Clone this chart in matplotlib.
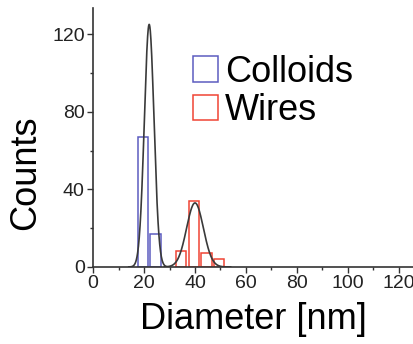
import numpy as np
import matplotlib
matplotlib.use('Agg')
import matplotlib.pyplot as plt
from matplotlib.patches import Rectangle

plt.rcParams['font.family'] = ['Liberation Sans', 'DejaVu Sans']

# histogram bins (centres in nm) and counts
colloid_centers = [19.5, 24.5]
colloid_counts = [67, 17]
wire_centers = [34.5, 39.5, 44.5, 49.5]
wire_counts = [8, 34, 7, 4]

# gaussian fit parameters: centre, amplitude, sigma
colloid_fit = (22.0, 125.0, 1.9)
wire_fit = (40.0, 33.0, 3.3)

xticks = [0, 20, 40, 60, 80, 100, 120]
yticks = [0, 40, 80, 120]

blue = '#5c5cc0'
red = '#f04434'


def gauss(x, c, a, s):
    return a * np.exp(-0.5 * ((x - c) / s) ** 2)


fig = plt.figure(figsize=(4.14, 3.44), dpi=100)
ax = fig.add_axes([0.225, 0.224, 0.775, 0.753])

ax.bar(colloid_centers, colloid_counts, width=4.1, fill=False,
       edgecolor=blue, linewidth=1.1)
ax.bar(wire_centers, wire_counts, width=4.1, fill=False,
       edgecolor=red, linewidth=1.1)

xc = np.linspace(14, 30, 200)
ax.plot(xc, gauss(xc, *colloid_fit), color='#3a3a3a', lw=1.2)
xw = np.linspace(28, 54, 200)
ax.plot(xw, gauss(xw, *wire_fit), color='#3a3a3a', lw=1.2)

ax.set_xlim(0, 126)
ax.set_ylim(0, 133.5)
ax.set_xticks(xticks)
ax.set_yticks(yticks)
ax.set_xticks(np.arange(10, 130, 20), minor=True)
ax.set_yticks(np.arange(20, 140, 40), minor=True)
ax.tick_params(which='major', direction='out', length=4, width=1,
               labelsize=14, colors='#333333', labelcolor='#222222', pad=2)
ax.tick_params(which='minor', direction='out', length=2.5, width=1,
               colors='#333333')
for side in ['top', 'right']:
    ax.spines[side].set_visible(False)
for side in ['left', 'bottom']:
    ax.spines[side].set_color('#333333')
    ax.spines[side].set_linewidth(1.2)

ax.set_xlabel('Diameter [nm]', fontsize=26, labelpad=7)
ax.set_ylabel('Counts', fontsize=26)
ax.yaxis.set_label_coords(-0.157, 0.363)

handles = [Rectangle((0, 0), 1, 1, fill=False, edgecolor=blue, lw=1.1),
           Rectangle((0, 0), 1, 1, fill=False, edgecolor=red, lw=1.1)]
ax.legend(handles, ['Colloids', 'Wires'], loc='upper left',
          bbox_to_anchor=(0.31, 0.82), frameon=False, fontsize=26,
          handlelength=0.7, handleheight=0.7, handletextpad=0.2,
          labelspacing=0.1, borderpad=0, borderaxespad=0)

fig.savefig('out.png', dpi=100)
